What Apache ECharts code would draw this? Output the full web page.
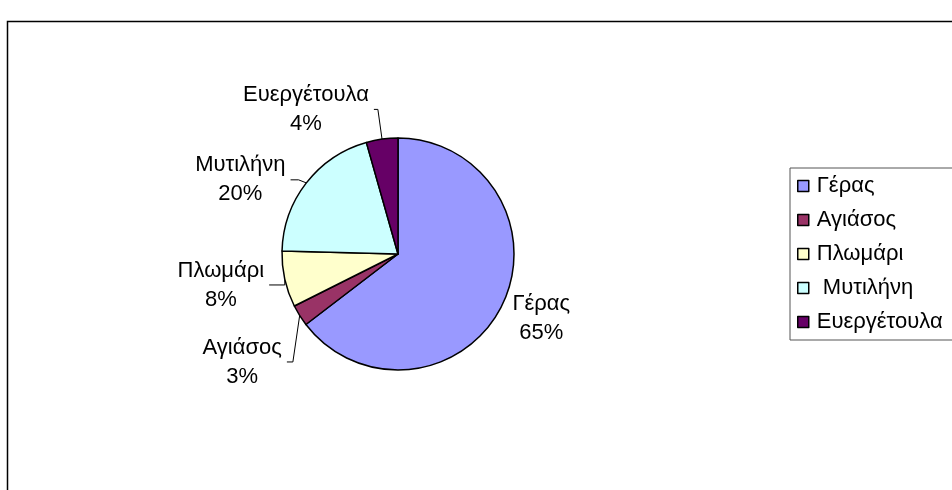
<!DOCTYPE html>
<html><head><meta charset="utf-8">
<script src="https://cdn.jsdelivr.net/npm/echarts@6/dist/echarts.min.js"></script>
<style>html,body{margin:0;padding:0;background:#fff}#c{width:952px;height:490px}</style>
</head><body><div id="c"></div>
<script>
const categories = ['Γέρας', 'Αγιάσος', 'Πλωμάρι', ' Μυτιλήνη', 'Ευεργέτουλα'];
const values = [64.6, 3.0, 7.8, 20.2, 4.4];
const colors = ['#9999FF', '#993366', '#FFFFCC', '#CCFFFF', '#660066'];

// label leader-line styling per slice (lengths in px) and vertical nudges
const lineLen = [6, 8, 3, 5, 30];
const lineLen2 = [0, 6, 16, 8, 4];
const lineShow = [false, true, true, true, true];
const labelNudgeY = [10, 22, 5, 0, 0];

const chart = echarts.init(document.getElementById('c'), null, {renderer: 'canvas'});
const font = '"Liberation Sans", Arial, sans-serif';
chart.setOption({
  animation: false,
  textStyle: {fontFamily: font},
  graphic: [{
    type: 'rect', shape: {x: 7.5, y: 21.5, width: 960, height: 480},
    style: {fill: 'none', stroke: '#000', lineWidth: 1.5}, silent: true
  }],
  legend: {
    orient: 'vertical', left: 790, top: 168,
    data: categories,
    icon: 'rect', itemWidth: 11, itemHeight: 11, itemGap: 12,
    itemStyle: {borderColor: '#000', borderWidth: 1.5},
    padding: [7, 80, 7, 7],
    borderColor: '#555', borderWidth: 1,
    textStyle: {fontSize: 22, lineHeight: 22, color: '#000', fontFamily: font, padding: [0, 0, 0, 3]}
  },
  series: [{
    type: 'pie',
    center: [398, 254], radius: 116,
    startAngle: 90, clockwise: true,
    percentPrecision: 0,
    data: categories.map((n, i) => ({
      name: n, value: values[i], itemStyle: {color: colors[i]},
      labelLine: {show: lineShow[i], length: lineLen[i], length2: lineLen2[i]}
    })),
    itemStyle: {borderColor: '#000', borderWidth: 1.5},
    label: {
      show: true, position: 'outside',
      formatter: p => '{c|' + p.name.trim() + '}\n{c|' + p.percent + '%}',
      rich: {c: {align: 'center', fontSize: 22, lineHeight: 29, color: '#000', fontFamily: font}},
      fontSize: 22, color: '#000', lineHeight: 29, fontFamily: font
    },
    labelLine: {show: true, length: 10, length2: 8, lineStyle: {color: '#000', width: 1}},
    labelLayout: function (p) {
      const dy = labelNudgeY[p.dataIndex];
      const pts = p.labelLinePoints;
      if (!dy || !pts) return {};
      return {
        dy: dy,
        labelLinePoints: [pts[0], [pts[1][0], pts[1][1] + dy], [pts[2][0], pts[2][1] + dy]]
      };
    },
    emphasis: {disabled: true}
  }]
});
</script></body></html>
